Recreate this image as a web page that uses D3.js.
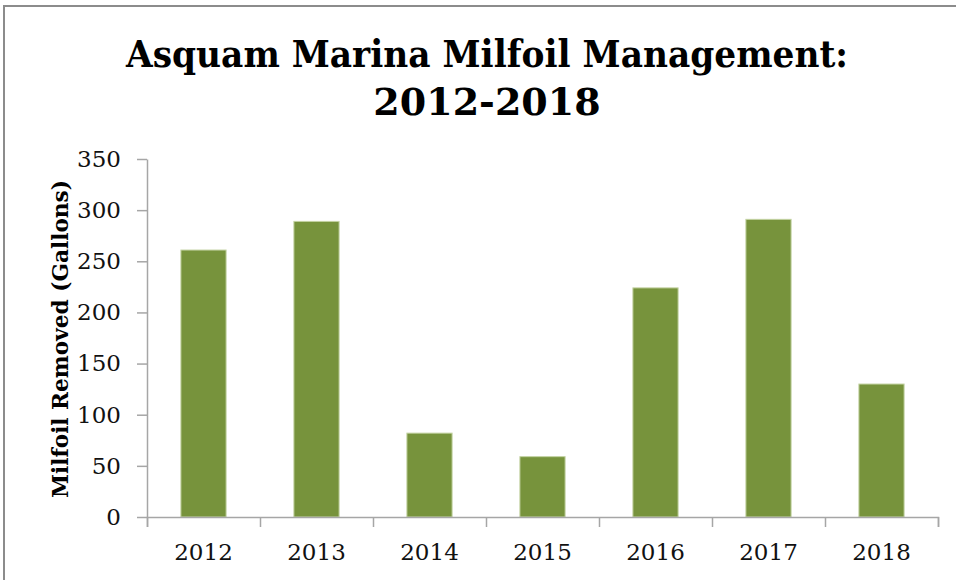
<!DOCTYPE html>
<html>
<head>
<meta charset="utf-8">
<script src="https://cdn.jsdelivr.net/npm/d3@7"></script>
<style>
body { margin: 0; background: #fff; }
svg { display: block; }
.axis path, .axis line { stroke: #a6a6a6; stroke-width: 1.5; }
.axis text { font-family: "DejaVu Serif", serif; font-size: 23px; fill: #111; }
</style>
</head>
<body>
<script>
var years = ["2012", "2013", "2014", "2015", "2016", "2017", "2018"];
var gallons = [261, 289, 82, 59, 224, 291, 130];
var yTicks = [0, 50, 100, 150, 200, 250, 300, 350];

var W = 956, H = 580;
var margin = {top: 159, right: 18, bottom: 63, left: 147};

var svg = d3.select("body").append("svg")
	.attr("width", W)
	.attr("height", H);

// frame
svg.append("rect")
	.attr("x", 4).attr("y", 6)
	.attr("width", 1000).attr("height", 1000)
	.attr("fill", "#fff")
	.attr("stroke", "#8c8c8c")
	.attr("stroke-width", 2);

var x = d3.scaleBand()
	.domain(years)
	.range([margin.left, W - margin.right])
	.paddingInner(0.6)
	.paddingOuter(0.3);

var y = d3.scaleLinear()
	.domain([0, 350])
	.range([H - margin.bottom, margin.top]);

// category boundaries for the tick marks
var xb = d3.scaleLinear()
	.domain([0, years.length])
	.range([margin.left, W - margin.right]);

// bars
svg.selectAll("rect.bar")
	.data(years)
	.enter().append("rect")
	.attr("class", "bar")
	.attr("x", function(d) { return x(d); })
	.attr("width", x.bandwidth())
	.attr("y", function(d, i) { return y(gallons[i]); })
	.attr("height", function(d, i) { return y(0) - y(gallons[i]); })
	.attr("fill", "#77933c")
	.attr("stroke", "#c4d3a3")
	.attr("stroke-width", 1);

// y axis
svg.append("g")
	.attr("class", "axis")
	.attr("transform", "translate(" + margin.left + ",0)")
	.call(d3.axisLeft(y).tickValues(yTicks).tickSize(10).tickPadding(16).tickSizeOuter(0));

// x axis: ticks between categories, labels centered
svg.append("g")
	.attr("class", "axis")
	.attr("transform", "translate(0," + y(0) + ")")
	.call(d3.axisBottom(xb).ticks(years.length).tickFormat("").tickSize(10).tickSizeOuter(10));

svg.append("g")
	.attr("class", "axis")
	.attr("transform", "translate(0," + y(0) + ")")
	.call(d3.axisBottom(x).tickSize(0).tickPadding(27))
	.call(function(g) { g.select(".domain").remove(); });

// y label
svg.append("text")
	.attr("transform", "rotate(-90)")
	.attr("x", -339)
	.attr("y", 68)
	.attr("text-anchor", "middle")
	.style("font-family", "'DejaVu Serif', serif")
	.style("font-weight", "bold")
	.style("font-size", "22px")
	.attr("textLength", 318)
	.attr("lengthAdjust", "spacingAndGlyphs")
	.text("Milfoil Removed (Gallons)");

// title
var title = svg.append("text")
	.attr("x", 487)
	.attr("text-anchor", "middle")
	.style("font-family", "'DejaVu Serif', serif")
	.style("font-weight", "bold")
	.style("font-size", "38px")
	.style("fill", "#000");

title.append("tspan").attr("x", 487).attr("y", 67)
	.attr("textLength", 722).attr("lengthAdjust", "spacingAndGlyphs")
	.text("Asquam Marina Milfoil Management:");
title.append("tspan").attr("x", 487).attr("y", 115)
	.text("2012-2018");
</script>
</body>
</html>
